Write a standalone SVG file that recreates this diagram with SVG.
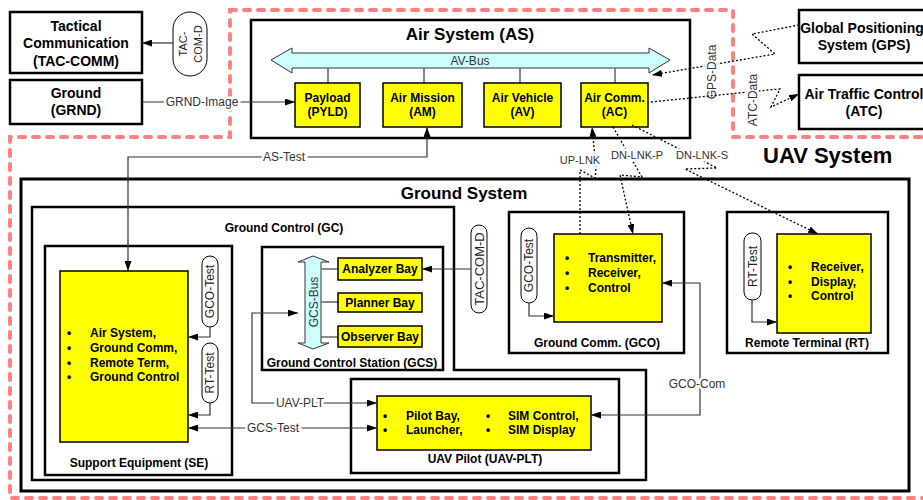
<svg xmlns="http://www.w3.org/2000/svg" width="923" height="500" viewBox="0 0 923 500">
<defs>
<marker id="arr" viewBox="0 0 10 7" refX="10" refY="3.5" markerWidth="10" markerHeight="7" markerUnits="userSpaceOnUse" orient="auto-start-reverse"><path d="M0,0 L10,3.5 L0,7 z" fill="#000"/></marker>
<style>
text{font-family:"Liberation Sans",Arial,sans-serif;fill:#000}
.box{fill:#fff;stroke:#000;stroke-width:2.5}
.ybox{fill:#ffff00;stroke:#000;stroke-width:1.5}
.pill{fill:#fff;stroke:#000;stroke-width:1}
.bus{fill:#ccffff;stroke:#333;stroke-width:1}
.stub{stroke:#666;stroke-width:1.5;fill:none}
.ln{fill:none;stroke:#333;stroke-width:1.2}
.dot{fill:none;stroke:#000;stroke-width:1.3;stroke-dasharray:2 2}
.t14{font-size:14px;font-weight:bold;text-anchor:middle}
.t12{font-size:12px;font-weight:bold;text-anchor:middle}
.b12{font-size:12px;font-weight:bold}
.lbl{font-size:12px;text-anchor:middle;fill:#333;stroke:#fff;stroke-width:5;paint-order:stroke}
.lbl11{font-size:11px;text-anchor:middle;fill:#333;stroke:#fff;stroke-width:5;paint-order:stroke}
.pt{font-size:12px;text-anchor:middle;fill:#222}
</style>
</defs>
<rect width="923" height="500" fill="#fff"/>

<path id="uav-boundary" d="M230,10 L733,10 L733,137 L930,137 L930,498 L10,498 L10,137 L230,137 Z" fill="none" stroke="#ff8080" stroke-width="4" stroke-dasharray="6 8" stroke-linecap="round"/>
<text x="763" y="163" style="font-size:22px;font-weight:bold">UAV System</text>

<g id="tac-comm"><rect class="box" x="10" y="12" width="132" height="61"/>
<text class="t14" x="76" y="31">Tactical</text><text class="t14" x="76" y="48">Communication</text><text class="t14" x="76" y="66">(TAC-COMM)</text></g>
<g id="grnd"><rect class="box" x="10" y="80" width="132" height="44"/>
<text class="t14" x="76" y="98">Ground</text><text class="t14" x="76" y="115">(GRND)</text></g>
<g id="tac-com-d-pill"><rect class="pill" x="173" y="12" width="34" height="64" rx="17"/>
<text class="pt" style="font-size:11px" transform="translate(187,44) rotate(-90)">TAC-</text>
<text class="pt" style="font-size:11px" transform="translate(202,44) rotate(-90)">COM-D</text></g>

<g id="gps"><rect class="box" x="799" y="10" width="132" height="53"/>
<text class="t14" x="862" y="33">Global Positioning</text><text class="t14" x="864" y="50">System (GPS)</text></g>
<g id="atc"><rect class="box" x="799" y="75" width="132" height="54"/>
<text class="t14" x="864" y="99">Air Traffic Control</text><text class="t14" x="864" y="116">(ATC)</text></g>

<g id="air-system"><rect class="box" x="251" y="20" width="439" height="118"/>
<text x="470" y="40" style="font-size:17px;font-weight:bold;text-anchor:middle">Air System (AS)</text>
<polygon class="bus" points="271,60 292,48 292,53 649,53 649,48 670,60 649,73 649,68 292,68 292,73"/>
<text x="470" y="65" style="font-size:12px;text-anchor:middle;fill:#333">AV-Bus</text>
<path class="stub" d="M328,68V83 M424,68V83 M520,68V83 M615,68V83"/></g>
<g id="pyld"><rect class="ybox" x="295" y="83" width="65" height="44"/><text class="t12" x="327.5" y="102">Payload</text><text class="t12" x="327.5" y="116">(PYLD)</text></g>
<g id="am"><rect class="ybox" x="383" y="83" width="79" height="44"/><text class="t12" x="422.5" y="102">Air Mission</text><text class="t12" x="422.5" y="116">(AM)</text></g>
<g id="av"><rect class="ybox" x="484" y="83" width="77" height="44"/><text class="t12" x="522.5" y="102">Air Vehicle</text><text class="t12" x="522.5" y="116">(AV)</text></g>
<g id="ac"><rect class="ybox" x="581" y="83" width="67" height="44"/><text class="t12" x="614.5" y="102">Air Comm.</text><text class="t12" x="614.5" y="116">(AC)</text></g>

<g id="ground-system"><rect x="21" y="179" width="888" height="312" fill="none" stroke="#000" stroke-width="3"/>
<text x="464" y="199" style="font-size:17px;font-weight:bold;text-anchor:middle">Ground System</text></g>
<g id="gc"><path d="M32,207 L454,207 L454,370 L646,370 L646,480 L32,480 Z" fill="none" stroke="#000" stroke-width="2.5"/>
<text class="t12" x="284" y="232">Ground Control (GC)</text></g>

<g id="se"><rect class="box" x="45" y="246" width="187" height="229"/>
<text class="t12" x="139" y="467">Support Equipment (SE)</text>
<rect class="ybox" x="60" y="271" width="128" height="171"/>
<text class="b12" x="67" y="337">•</text><text class="b12" x="90" y="337">Air System,</text>
<text class="b12" x="67" y="352">•</text><text class="b12" x="90" y="352">Ground Comm,</text>
<text class="b12" x="67" y="367">•</text><text class="b12" x="90" y="367">Remote Term,</text>
<text class="b12" x="67" y="381">•</text><text class="b12" x="90" y="381">Ground Control</text>
<rect class="pill" x="202" y="256" width="16" height="71" rx="8"/>
<text class="pt" transform="translate(214,291.5) rotate(-90)">GCO-Test</text>
<rect class="pill" x="202" y="343" width="16" height="60" rx="8"/>
<text class="pt" transform="translate(214,373) rotate(-90)">RT-Test</text></g>

<g id="gcs"><rect class="box" x="262" y="247" width="181" height="123"/>
<text class="t12" x="352" y="367">Ground Control Station (GCS)</text>
<polygon class="bus" points="313,256 329,262 321,262 321,343 329,343 313,349 298,343 305,343 305,262 298,262"/>
<text x="0" y="0" transform="translate(317.5,302) rotate(-90)" style="font-size:12px;text-anchor:middle;fill:#333">GCS-Bus</text>
<path class="stub" d="M321,269H338 M321,302H338 M321,337H338"/>
<rect class="ybox" x="338" y="258" width="84" height="22"/><text class="t12" x="380" y="273">Analyzer Bay</text>
<rect class="ybox" x="338" y="293" width="84" height="19"/><text class="t12" x="380" y="307">Planner Bay</text>
<rect class="ybox" x="338" y="326" width="84" height="21"/><text class="t12" x="380" y="341">Observer Bay</text></g>

<g id="tac-com-d-gc"><rect class="pill" x="471" y="225" width="16" height="88" rx="8"/>
<text class="pt" style="font-size:13px" transform="translate(483.5,269) rotate(-90)">TAC-COM-D</text></g>

<g id="gco"><rect class="box" x="509" y="212" width="175" height="141"/>
<text class="t12" x="597" y="347">Ground Comm. (GCO)</text>
<rect class="ybox" x="554" y="234" width="108" height="88"/>
<text class="b12" x="565" y="262">•</text><text class="b12" x="588" y="262">Transmitter,</text>
<text class="b12" x="565" y="277">•</text><text class="b12" x="588" y="277">Receiver,</text>
<text class="b12" x="565" y="292">•</text><text class="b12" x="588" y="292">Control</text>
<rect class="pill" x="521" y="228" width="16" height="75" rx="8"/>
<text class="pt" transform="translate(533,265.5) rotate(-90)">GCO-Test</text></g>

<g id="rt"><rect class="box" x="727" y="212" width="161" height="141"/>
<text class="t12" x="807" y="347">Remote Terminal (RT)</text>
<rect class="ybox" x="777" y="234" width="94" height="99"/>
<text class="b12" x="788" y="271">•</text><text class="b12" x="811" y="271">Receiver,</text>
<text class="b12" x="788" y="286">•</text><text class="b12" x="811" y="286">Display,</text>
<text class="b12" x="788" y="300">•</text><text class="b12" x="811" y="300">Control</text>
<rect class="pill" x="744" y="233" width="17" height="67" rx="8"/>
<text class="pt" transform="translate(756.5,266.5) rotate(-90)">RT-Test</text></g>

<g id="uav-plt"><rect class="box" x="351" y="379" width="268" height="94"/>
<text class="t12" x="485" y="463">UAV Pilot (UAV-PLT)</text>
<rect class="ybox" x="377" y="396" width="214" height="54"/>
<text class="b12" x="383" y="420">•</text><text class="b12" x="406" y="420">Pilot Bay,</text>
<text class="b12" x="383" y="434">•</text><text class="b12" x="406" y="434">Launcher,</text>
<text class="b12" x="486" y="420">•</text><text class="b12" x="508" y="420">SIM Control,</text>
<text class="b12" x="486" y="434">•</text><text class="b12" x="508" y="434">SIM Display</text></g>

<g id="connectors">
<path class="ln" d="M173,43 L142,43" marker-end="url(#arr)"/>
<path class="ln" d="M142,102 L295,102" marker-end="url(#arr)"/>
<text class="lbl" x="202" y="106">GRND-Image</text>
<path class="ln" d="M427,127 L427,157 L128,157 L128,271" marker-start="url(#arr)" marker-end="url(#arr)"/>
<text class="lbl" x="284" y="161">AS-Test</text>
<path class="ln" d="M210,327 L210,337 L188,337" marker-end="url(#arr)"/>
<path class="ln" d="M210,403 L210,415 L188,415" marker-end="url(#arr)"/>
<path class="ln" d="M471,269 L422,269" marker-end="url(#arr)"/>
<path class="ln" d="M298,313 L252,313 L252,403 L377,403" marker-start="url(#arr)" marker-end="url(#arr)"/>
<text class="lbl" x="300" y="407">UAV-PLT</text>
<path class="ln" d="M188,428 L377,428" marker-start="url(#arr)" marker-end="url(#arr)"/>
<text class="lbl" x="273" y="432">GCS-Test</text>
<path class="ln" d="M529,303 L529,316 L554,316" marker-end="url(#arr)"/>
<path class="ln" d="M752,300 L752,322 L777,322" marker-end="url(#arr)"/>
<path class="ln" d="M662,283 L700,283 L700,415 L591,415" marker-start="url(#arr)" marker-end="url(#arr)"/>
<text class="lbl" x="697" y="388">GCO-Com</text>
<path class="dot" d="M799,25 L752,34 L775,54 L652,75" marker-end="url(#arr)"/>
<text class="lbl" transform="translate(716,72) rotate(-90)">GPS-Data</text>
<path class="dot" d="M651,102 L768,90 L780,89 L771,107 L799,94" marker-end="url(#arr)"/>
<text class="lbl" transform="translate(757,100) rotate(-90)">ATC-Data</text>
<path class="dot" d="M580,234 L580,170 L595,178 L596,168 L592,127" marker-end="url(#arr)"/>
<text class="lbl11" x="580" y="164">UP-LNK</text>
<path class="dot" d="M613,127 L642,177 L620,175 L633,234" marker-end="url(#arr)"/>
<text class="lbl11" x="637" y="159">DN-LNK-P</text>
<path class="dot" d="M632,125 L717,168 L685,169 L818,234" marker-end="url(#arr)"/>
<text class="lbl11" x="702" y="159">DN-LNK-S</text>
</g>
</svg>
